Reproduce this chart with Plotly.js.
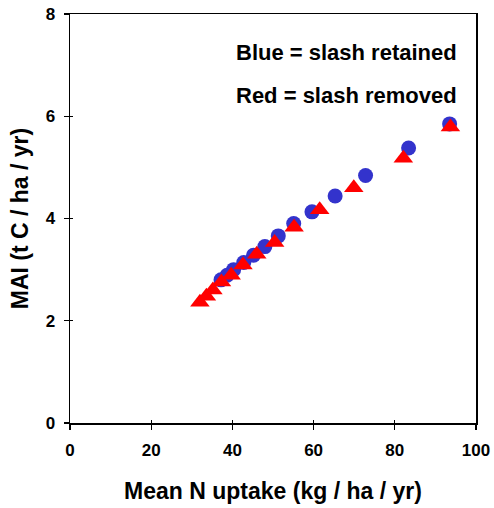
<!DOCTYPE html>
<html>
<head>
<meta charset="utf-8">
<script src="https://cdn.plot.ly/plotly-3.0.1.min.js"></script>
<style>html,body{margin:0;padding:0;background:#fff;}#chart{width:494px;height:508px;}</style>
</head>
<body>
<div id="chart"></div>
<script>
// Blue = slash retained
const retainedN = [93.5, 83.4, 72.8, 65.3, 59.6, 55.1, 51.3, 48.0, 45.2, 42.8, 40.3, 38.7, 37.2];
const retainedMAI = [5.85, 5.38, 4.84, 4.44, 4.13, 3.90, 3.66, 3.45, 3.28, 3.14, 3.00, 2.89, 2.80];
// Red = slash removed
const removedN = [93.7, 82.1, 69.9, 61.5, 55.2, 50.4, 46.0, 42.6, 39.7, 37.3, 35.2, 33.6, 32.0];
const removedMAI = [5.79, 5.18, 4.60, 4.17, 3.83, 3.53, 3.30, 3.09, 2.89, 2.76, 2.60, 2.48, 2.36];
const xTicks = [0, 20, 40, 60, 80, 100];
const yTicks = [0, 2, 4, 6, 8];

const font = "'Liberation Sans', Arial, sans-serif";
const data = [
  {x: retainedN, y: retainedMAI, type: 'scatter', mode: 'markers', name: 'retained',
   marker: {symbol: 'circle', size: 15, color: '#3333CC'}},
  {x: removedN, y: removedMAI, type: 'scatter', mode: 'markers', name: 'removed',
   marker: {symbol: 'triangle-up', size: 17, color: '#FF0000'}},
  {x: [0], y: [0], xaxis: 'x2', yaxis: 'y2', mode: 'markers', marker: {opacity: 0}, hoverinfo: 'skip', showlegend: false}
];
const axBase = {
  showgrid: false, zeroline: false, showline: true, linecolor: '#000', linewidth: 1.5,
  ticks: 'outside', ticklen: 5, tickwidth: 1.2, tickcolor: '#000', mirror: true
};
const layout = {
  width: 494, height: 508,
  margin: {l: 70, r: 18, t: 14, b: 85},
  paper_bgcolor: '#fff', plot_bgcolor: '#fff',
  showlegend: false,
  font: {family: font, color: '#000'},
  xaxis: Object.assign({}, axBase, {
    range: [0, 100], tickvals: xTicks, ticktext: xTicks.map(v => '<b>' + v + '</b>'),
    tickfont: {family: font, size: 17, weight: 'bold'}, ticklabelstandoff: 6,
    title: {text: '<b>Mean N uptake (kg / ha / yr)</b>', font: {family: font, size: 23}, standoff: 24}
  }),
  yaxis: Object.assign({}, axBase, {
    range: [0, 8], tickvals: yTicks, ticktext: yTicks.map(v => '<b>' + v + '</b>'),
    tickfont: {family: font, size: 17, weight: 'bold'}, ticklabelstandoff: 5,
    title: {text: '<b>MAI (t C / ha / yr)</b>', font: {family: font, size: 23}, standoff: 10}
  }),
  xaxis2: {overlaying: 'x', range: [0, 100], tickvals: xTicks, showticklabels: false, ticks: 'inside', ticklen: 3, tickwidth: 1.2, tickcolor: '#000', showgrid: false, zeroline: false, showline: false, anchor: 'y'},
  yaxis2: {overlaying: 'y', range: [0, 8], tickvals: yTicks, showticklabels: false, ticks: 'inside', ticklen: 3, tickwidth: 1.2, tickcolor: '#000', showgrid: false, zeroline: false, showline: false, anchor: 'x'},
  annotations: [
    {xref: 'paper', yref: 'paper', x: 0.958, y: 0.905, xanchor: 'right', yanchor: 'middle', showarrow: false,
     text: '<b>Blue = slash retained</b>', font: {family: font, size: 22, color: '#000'}},
    {xref: 'paper', yref: 'paper', x: 0.958, y: 0.80, xanchor: 'right', yanchor: 'middle', showarrow: false,
     text: '<b>Red = slash removed</b>', font: {family: font, size: 22, color: '#000'}}
  ]
};
Plotly.newPlot('chart', data, layout, {displayModeBar: false, staticPlot: true});
</script>
</body>
</html>
